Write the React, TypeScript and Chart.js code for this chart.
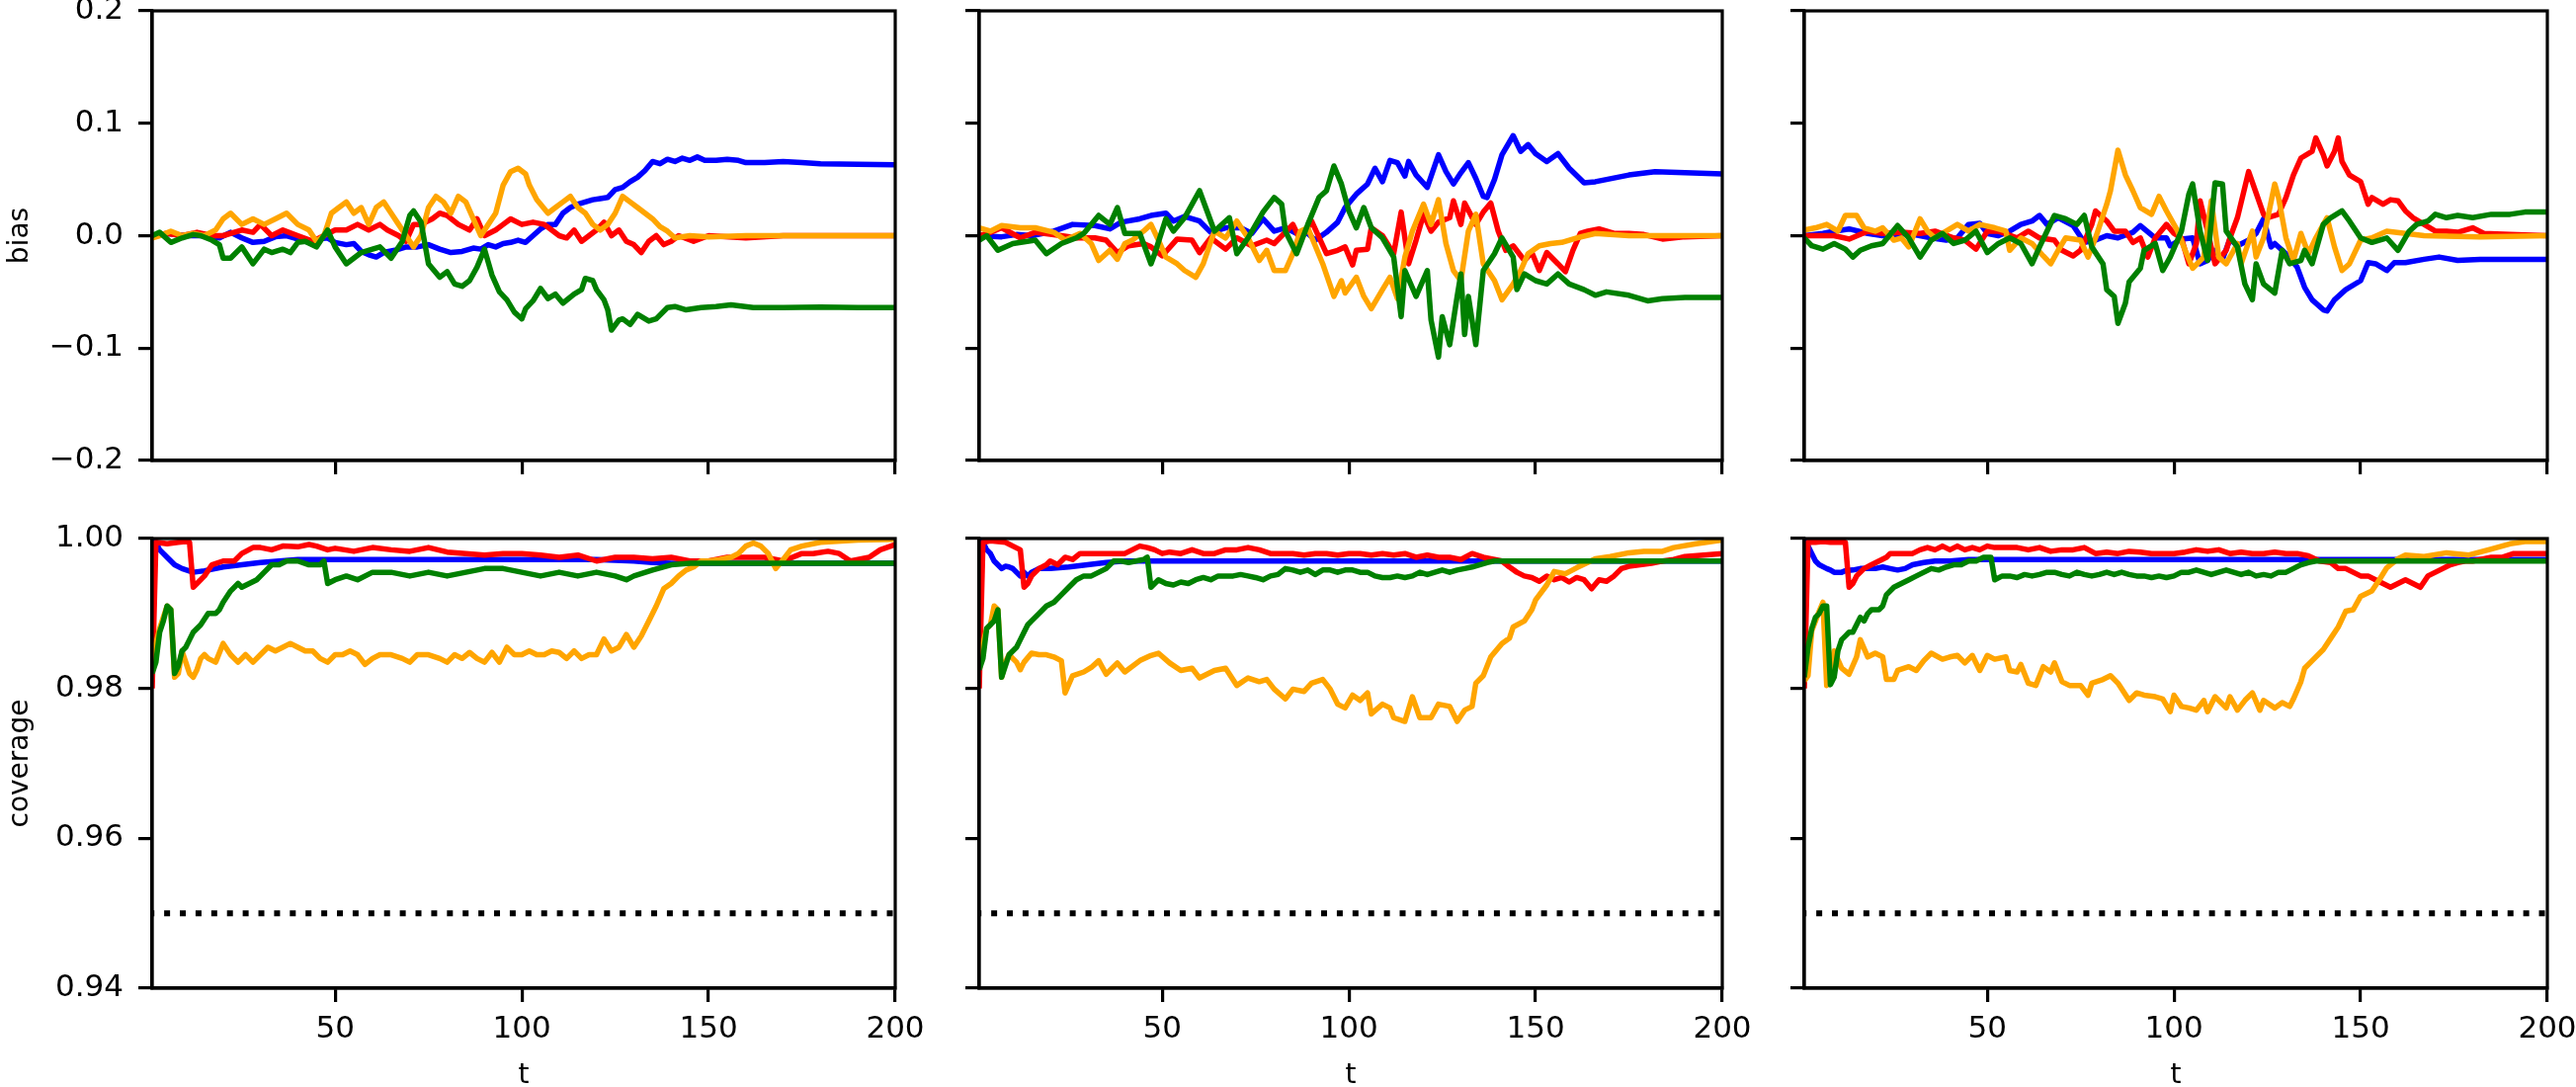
import React, { useEffect, useRef } from "react";
import { Chart, registerables } from "chart.js";

Chart.register(...registerables);
Chart.defaults.font.family = "'DejaVu Sans', sans-serif";

type Pt = [number, number];

// ---------- ticks / labels ----------
const X_TICKS = [50, 100, 150, 200];
const BIAS_TICKS = [-0.2, -0.1, 0, 0.1, 0.2];
const BIAS_TICK_LABELS = ["\u22120.2", "\u22120.1", "0.0", "0.1", "0.2"];
const COV_TICKS = [0.94, 0.96, 0.98, 1.0];
const COV_TICK_LABELS = ["0.94", "0.96", "0.98", "1.00"];
const NOMINAL_LINE: Pt[] = [[0, 0.95], [200, 0.95]];

const COLORS: Record<string, string> = { green: "#008000", orange: "#ffa500", red: "#ff0000", blue: "#0000ff" };
const SERIES_ORDER = ["green", "orange", "red", "blue"];

// ---------- bias, column A ----------
const BIAS_A_GREEN: Pt[] = [[1,0],[3,0.003],[6,-0.006],[9,-0.002],[12,0.001],[14,0],[17,-0.004],[19,-0.008],[20,-0.02],[22,-0.02],[25,-0.01],[28,-0.025],[31,-0.012],[33,-0.015],[36,-0.012],[38,-0.015],[40,-0.006],[42,-0.005],[45,-0.01],[48,0.005],[50,-0.01],[53,-0.025],[55,-0.02],[57,-0.015],[60,-0.012],[62,-0.01],[65,-0.02],[68,-0.005],[70,0.018],[71,0.022],[73,0.012],[75,-0.025],[78,-0.037],[80,-0.032],[82,-0.043],[84,-0.045],[86,-0.04],[88,-0.028],[90,-0.012],[92,-0.035],[94,-0.05],[96,-0.057],[98,-0.068],[100,-0.074],[101,-0.065],[103,-0.058],[105,-0.047],[107,-0.056],[109,-0.052],[111,-0.06],[114,-0.052],[116,-0.048],[117,-0.038],[119,-0.04],[120,-0.048],[122,-0.057],[123,-0.066],[124,-0.084],[126,-0.075],[127,-0.074],[129,-0.079],[131,-0.07],[134,-0.076],[136,-0.074],[139,-0.064],[141,-0.063],[144,-0.066],[148,-0.064],[152,-0.063],[156,-0.0615],[162,-0.064],[170,-0.064],[180,-0.0635],[190,-0.064],[200,-0.064]];
const BIAS_A_ORANGE: Pt[] = [[1,-0.002],[3,0],[6,0.004],[9,0],[12,0.002],[15,0],[18,0.005],[20,0.015],[22,0.02],[25,0.01],[28,0.015],[31,0.01],[34,0.015],[37,0.02],[40,0.01],[43,0.005],[45,-0.005],[47,0],[49,0.02],[51,0.025],[53,0.03],[55,0.02],[57,0.025],[59,0.01],[61,0.025],[63,0.03],[65,0.02],[67,0.01],[69,0],[71,-0.01],[73,0],[75,0.025],[77,0.035],[79,0.03],[81,0.02],[83,0.035],[85,0.03],[87,0.015],[89,0],[91,0.01],[93,0.02],[95,0.045],[97,0.057],[99,0.06],[101,0.055],[102,0.045],[104,0.032],[107,0.02],[109,0.025],[111,0.03],[113,0.035],[115,0.025],[117,0.02],[119,0.01],[121,0.005],[123,0.01],[125,0.02],[127,0.035],[129,0.03],[131,0.025],[133,0.02],[135,0.015],[137,0.008],[139,0.004],[141,-0.002],[145,0],[150,-0.001],[160,0],[200,0]];
const BIAS_A_RED: Pt[] = [[1,0],[5,0.002],[9,0],[13,0.003],[17,0],[20,0],[25,0.005],[28,0.003],[30,0.01],[33,0],[36,0.005],[40,0],[44,-0.005],[47,0],[50,0.005],[53,0.005],[56,0.01],[59,0.005],[62,0.01],[64,0.005],[67,0],[69,-0.005],[71,0.01],[73,0.01],[76,0.015],[78,0.02],[80,0.018],[83,0.01],[86,0.005],[88,0.015],[90,0],[93,0.005],[95,0.01],[97,0.015],[100,0.01],[103,0.012],[106,0.01],[108,0.005],[110,0],[112,-0.002],[114,0.005],[116,-0.005],[118,0],[120,0.005],[122,0.012],[124,0],[126,0.005],[128,-0.005],[130,-0.008],[132,-0.015],[134,-0.005],[136,0],[138,-0.008],[140,-0.005],[142,0],[146,-0.005],[150,0],[160,-0.002],[170,0],[200,0]];
const BIAS_A_BLUE: Pt[] = [[1,0],[5,0.002],[10,0],[15,0],[19,-0.002],[22,0.003],[25,-0.002],[28,-0.006],[31,-0.005],[34,-0.001],[37,0],[40,-0.003],[43,-0.006],[45,-0.003],[48,-0.002],[50,-0.006],[53,-0.008],[55,-0.007],[57,-0.014],[59,-0.017],[61,-0.019],[63,-0.015],[66,-0.013],[69,-0.01],[72,-0.01],[75,-0.008],[78,-0.012],[81,-0.015],[84,-0.014],[87,-0.011],[89,-0.012],[91,-0.008],[93,-0.01],[95,-0.007],[97,-0.006],[99,-0.004],[101,-0.006],[103,0],[105,0.006],[107,0.01],[109,0.01],[111,0.02],[113,0.025],[115,0.028],[117,0.03],[119,0.032],[121,0.033],[123,0.034],[125,0.041],[127,0.043],[129,0.048],[131,0.052],[133,0.058],[135,0.066],[137,0.064],[139,0.068],[141,0.066],[143,0.069],[145,0.067],[147,0.07],[149,0.067],[152,0.067],[155,0.068],[158,0.067],[160,0.065],[165,0.065],[170,0.066],[175,0.065],[180,0.064],[190,0.0635],[200,0.063]];

// ---------- bias, column B ----------
const BIAS_B_GREEN: Pt[] = [[1,-0.004],[3,0],[6,-0.013],[10,-0.007],[16,-0.004],[19,-0.016],[23,-0.007],[27,-0.002],[29,0.002],[33,0.018],[36,0.01],[38,0.025],[40,0.002],[44,0.002],[47,-0.025],[48,-0.016],[51,0.015],[53,0.004],[56,0.016],[60,0.04],[62,0.022],[64,0.004],[68,0.016],[70,-0.016],[73,-0.002],[77,0.021],[80,0.034],[82,0.028],[83,0.004],[86,-0.016],[89,0.01],[92,0.034],[94,0.04],[96,0.062],[98,0.046],[100,0.022],[102,0.007],[104,0.025],[106,0.007],[109,-0.002],[112,-0.019],[114,-0.072],[115,-0.031],[118,-0.054],[121,-0.031],[122,-0.075],[124,-0.108],[125,-0.072],[127,-0.097],[129,-0.054],[130,-0.034],[131,-0.088],[132,-0.054],[134,-0.097],[136,-0.031],[139,-0.016],[141,-0.002],[144,-0.019],[145,-0.048],[147,-0.034],[150,-0.04],[153,-0.043],[156,-0.034],[159,-0.043],[163,-0.048],[166,-0.053],[169,-0.05],[175,-0.053],[180,-0.058],[184,-0.056],[190,-0.055],[200,-0.055]];
const BIAS_B_ORANGE: Pt[] = [[1,0.007],[4,0.004],[7,0.009],[12,0.007],[16,0.007],[21,0.003],[24,-0.004],[28,0.002],[31,-0.007],[33,-0.022],[36,-0.013],[38,-0.021],[40,-0.007],[42,-0.004],[45,0.004],[47,0.01],[49,-0.004],[51,-0.019],[54,-0.025],[56,-0.031],[59,-0.037],[61,-0.025],[64,0.004],[67,-0.002],[70,0.013],[73,-0.002],[76,-0.022],[78,-0.013],[80,-0.031],[83,-0.031],[85,-0.016],[87,0.004],[89,0.007],[93,-0.025],[96,-0.054],[98,-0.04],[99,-0.051],[102,-0.037],[104,-0.054],[106,-0.065],[109,-0.048],[111,-0.037],[113,-0.056],[115,-0.019],[117,0.004],[120,0.028],[122,0.01],[124,0.032],[126,-0.007],[128,-0.031],[130,-0.04],[132,0.004],[134,0.019],[136,-0.025],[139,-0.04],[141,-0.057],[144,-0.043],[146,-0.031],[148,-0.016],[151,-0.009],[154,-0.007],[157,-0.006],[161,-0.002],[166,0.002],[175,0],[200,0]];
const BIAS_B_RED: Pt[] = [[1,0],[4,0.003],[7,0.007],[12,-0.002],[16,0.003],[23,0],[27,-0.002],[32,-0.002],[35,-0.004],[38,-0.015],[41,-0.009],[45,-0.007],[47,-0.01],[50,-0.018],[54,-0.003],[58,-0.004],[60,-0.015],[63,-0.002],[67,-0.012],[70,-0.002],[74,-0.009],[78,-0.004],[80,-0.007],[85,0.01],[87,-0.004],[90,0.013],[94,-0.016],[97,-0.013],[99,-0.01],[101,-0.026],[102,-0.013],[105,-0.012],[106,0.007],[109,0],[112,-0.016],[114,0.021],[116,-0.025],[118,-0.004],[120,0.019],[122,0.004],[124,0.012],[127,0.016],[128,0.031],[130,0.01],[131,0.029],[134,0.01],[136,0.021],[138,0.029],[140,0.004],[142,-0.013],[144,-0.009],[147,-0.022],[149,-0.015],[151,-0.031],[153,-0.015],[156,-0.025],[158,-0.032],[160,-0.013],[162,0.002],[164,0.004],[167,0.006],[171,0.002],[175,0.002],[179,0.001],[184,-0.003],[190,-0.001],[200,0]];
const BIAS_B_BLUE: Pt[] = [[1,0],[7,-0.001],[11,0.001],[15,0],[18,0.002],[21,0.004],[26,0.01],[32,0.009],[36,0.006],[39,0.012],[44,0.015],[47,0.018],[51,0.02],[53,0.013],[56,0.017],[60,0.013],[63,0.003],[67,0.007],[71,0.007],[74,0.002],[77,0.015],[80,0.004],[83,0.007],[86,0.002],[89,0.002],[91,-0.004],[94,0.003],[97,0.012],[99,0.025],[102,0.037],[105,0.046],[107,0.06],[109,0.048],[111,0.067],[113,0.065],[115,0.053],[116,0.066],[118,0.054],[121,0.043],[124,0.072],[126,0.057],[128,0.046],[130,0.056],[132,0.065],[134,0.051],[136,0.035],[137,0.034],[139,0.05],[141,0.072],[144,0.089],[146,0.075],[148,0.081],[150,0.073],[153,0.066],[156,0.073],[159,0.06],[163,0.047],[166,0.048],[169,0.05],[175,0.054],[182,0.057],[190,0.056],[200,0.055]];

// ---------- bias, column C ----------
const BIAS_C_GREEN: Pt[] = [[1,-0.002],[3,-0.009],[6,-0.012],[9,-0.007],[12,-0.012],[14,-0.019],[16,-0.013],[19,-0.009],[22,-0.007],[26,0.009],[29,-0.002],[32,-0.019],[35,-0.004],[38,0.002],[41,-0.007],[44,-0.004],[47,0.004],[50,-0.015],[53,-0.007],[56,-0.002],[59,-0.007],[62,-0.025],[64,-0.01],[66,0.004],[68,0.018],[71,0.015],[74,0.01],[76,0.018],[78,-0.01],[81,-0.025],[82,-0.048],[84,-0.054],[85,-0.078],[87,-0.06],[88,-0.041],[91,-0.029],[92,-0.013],[95,-0.007],[97,-0.031],[99,-0.019],[102,0.004],[104,0.037],[105,0.046],[107,0.004],[109,-0.022],[111,0.047],[113,0.046],[114,0.004],[117,-0.01],[119,-0.043],[121,-0.057],[122,-0.025],[124,-0.043],[127,-0.051],[129,-0.013],[131,-0.025],[134,-0.022],[135,-0.013],[137,-0.025],[140,0.01],[142,0.016],[145,0.022],[147,0.013],[150,-0.002],[153,-0.006],[157,-0.002],[160,-0.013],[163,0.004],[165,0.01],[168,0.013],[170,0.019],[173,0.016],[176,0.018],[180,0.016],[185,0.019],[190,0.019],[194,0.021],[200,0.021]];
const BIAS_C_ORANGE: Pt[] = [[1,0.005],[4,0.007],[7,0.01],[10,0.004],[12,0.018],[15,0.018],[17,0.007],[20,0.004],[22,0.007],[25,-0.004],[27,-0.002],[29,-0.01],[32,0.015],[34,0.004],[36,-0.002],[39,0.004],[42,0.01],[45,0.004],[48,0.01],[52,0.007],[55,0.004],[56,-0.013],[59,-0.002],[62,-0.007],[65,-0.018],[67,-0.025],[69,-0.013],[71,-0.002],[75,-0.004],[77,-0.019],[79,-0.002],[82,0.028],[83,0.04],[85,0.076],[87,0.054],[89,0.04],[91,0.025],[94,0.019],[96,0.035],[98,0.022],[101,0.004],[103,-0.013],[105,-0.029],[108,-0.019],[110,0.031],[112,-0.019],[114,-0.025],[117,-0.007],[118,-0.025],[121,0.004],[122,-0.019],[124,-0.002],[127,0.046],[128,0.034],[130,-0.002],[132,-0.022],[134,0.002],[136,-0.016],[138,-0.002],[141,0.016],[143,-0.01],[145,-0.031],[147,-0.025],[150,-0.004],[153,-0.002],[157,0.004],[162,0.002],[167,0],[182,-0.001],[200,0]];
const BIAS_C_RED: Pt[] = [[1,0],[6,0],[9,0],[13,-0.003],[18,0.004],[22,0.002],[27,0.003],[32,0.002],[36,0.004],[41,-0.002],[44,-0.004],[47,-0.012],[50,0.004],[53,0.004],[58,-0.002],[61,0.004],[64,-0.002],[68,-0.004],[70,-0.013],[73,-0.018],[75,-0.013],[78,0.01],[79,0.022],[82,0.013],[84,0.004],[87,0.004],[89,-0.006],[91,-0.002],[93,-0.019],[95,-0.002],[98,0.01],[100,0.002],[102,-0.002],[104,-0.025],[106,-0.007],[107,0.031],[109,0.004],[111,-0.025],[114,-0.013],[115,-0.002],[117,0.016],[120,0.057],[122,0.038],[124,0.019],[125,0.016],[128,0.019],[130,0.034],[132,0.054],[134,0.069],[137,0.075],[138,0.087],[140,0.072],[141,0.062],[143,0.075],[144,0.087],[145,0.066],[147,0.054],[150,0.048],[152,0.028],[153,0.034],[156,0.028],[158,0.032],[160,0.031],[162,0.022],[164,0.016],[167,0.01],[170,0.004],[173,0.004],[176,0.003],[180,0.007],[183,0.002],[190,0.001],[200,0]];
const BIAS_C_BLUE: Pt[] = [[1,0],[6,0.002],[9,0.004],[13,0.006],[18,0.002],[22,0],[29,0.002],[35,-0.002],[39,-0.004],[42,-0.002],[45,0.01],[48,0.011],[50,0.002],[53,0],[56,0.004],[59,0.01],[62,0.013],[64,0.018],[66,0.01],[69,0.016],[73,0.009],[76,-0.006],[79,-0.004],[82,0],[85,-0.002],[89,0.003],[91,0.009],[95,-0.002],[98,-0.002],[99,-0.009],[102,-0.003],[105,-0.002],[107,-0.025],[109,-0.022],[111,-0.013],[113,-0.021],[115,-0.003],[117,-0.009],[120,-0.004],[122,0.002],[124,0.015],[126,-0.01],[127,-0.007],[130,-0.016],[133,-0.028],[135,-0.046],[137,-0.057],[140,-0.066],[141,-0.067],[143,-0.057],[146,-0.048],[150,-0.04],[152,-0.024],[154,-0.025],[157,-0.031],[159,-0.024],[162,-0.024],[167,-0.021],[171,-0.019],[176,-0.022],[182,-0.021],[190,-0.021],[200,-0.021]];

// ---------- coverage, column A ----------
const COV_A_GREEN: Pt[] = [[1,0.982],[2,0.9835],[3,0.9875],[4,0.989],[5,0.991],[6,0.9905],[7,0.982],[8,0.983],[9,0.985],[10,0.9855],[11,0.9865],[12,0.9875],[14,0.9885],[16,0.99],[18,0.99],[19,0.9905],[20,0.9915],[22,0.993],[24,0.994],[25,0.9935],[27,0.994],[29,0.9945],[31,0.9955],[33,0.9965],[35,0.9965],[37,0.997],[40,0.997],[43,0.9965],[46,0.9965],[47,0.997],[48,0.994],[50,0.9945],[53,0.995],[56,0.9945],[60,0.9955],[65,0.9955],[70,0.995],[75,0.9955],[80,0.995],[85,0.9955],[90,0.996],[95,0.996],[100,0.9955],[105,0.995],[110,0.9955],[115,0.995],[120,0.9955],[125,0.995],[128,0.9945],[130,0.995],[135,0.9958],[140,0.9965],[145,0.9967],[150,0.9967],[200,0.9967]];
const COV_A_ORANGE: Pt[] = [[1,0.982],[2,0.986],[3,0.988],[4,0.9895],[5,0.991],[6,0.9905],[7,0.9815],[8,0.982],[9,0.985],[10,0.9835],[11,0.982],[12,0.9815],[13,0.9825],[14,0.984],[15,0.9845],[16,0.984],[18,0.9835],[20,0.986],[22,0.9845],[24,0.9835],[26,0.9845],[28,0.9835],[30,0.9845],[32,0.9855],[34,0.985],[36,0.9855],[38,0.986],[40,0.9855],[42,0.985],[44,0.985],[46,0.984],[48,0.9835],[50,0.9845],[52,0.9845],[54,0.985],[56,0.9845],[58,0.9832],[60,0.984],[62,0.9845],[65,0.9845],[68,0.984],[70,0.9835],[72,0.9845],[75,0.9845],[78,0.984],[80,0.9835],[82,0.9845],[84,0.984],[86,0.9848],[88,0.984],[90,0.9835],[92,0.9848],[94,0.9835],[96,0.9855],[98,0.9845],[100,0.9845],[102,0.985],[104,0.9845],[106,0.9845],[108,0.985],[110,0.9848],[112,0.984],[114,0.985],[116,0.984],[118,0.9845],[120,0.9845],[122,0.9866],[124,0.985],[126,0.9855],[128,0.9872],[130,0.9855],[132,0.987],[134,0.989],[136,0.991],[138,0.9933],[140,0.994],[142,0.995],[144,0.9958],[146,0.9962],[148,0.997],[150,0.997],[153,0.9972],[156,0.9975],[158,0.998],[160,0.999],[162,0.9994],[164,0.999],[166,0.998],[168,0.996],[170,0.9972],[172,0.9985],[175,0.999],[180,0.9995],[190,0.9998],[200,0.9999]];
const COV_A_RED: Pt[] = [[1,0.98],[2,0.9995],[5,0.9993],[8,0.9995],[10,0.9996],[11,0.9995],[12,0.9935],[13,0.994],[15,0.995],[17,0.9965],[20,0.997],[23,0.997],[25,0.998],[28,0.9988],[30,0.9988],[33,0.9985],[36,0.999],[40,0.9989],[43,0.9992],[45,0.999],[48,0.9985],[50,0.9987],[55,0.9983],[60,0.9988],[65,0.9985],[70,0.9983],[75,0.9988],[80,0.9982],[85,0.998],[90,0.9978],[95,0.998],[100,0.998],[105,0.9978],[110,0.9975],[115,0.9978],[120,0.997],[125,0.9975],[130,0.9975],[135,0.9973],[140,0.9975],[145,0.997],[150,0.997],[155,0.9975],[160,0.9975],[165,0.9975],[170,0.997],[175,0.998],[178,0.998],[182,0.9983],[185,0.998],[188,0.997],[190,0.9972],[193,0.9975],[196,0.9985],[200,0.9992]];
const COV_A_BLUE: Pt[] = [[1,1],[2,0.9995],[3,0.9985],[5,0.9975],[7,0.9965],[9,0.996],[12,0.9955],[15,0.9957],[18,0.996],[20,0.9962],[25,0.9965],[30,0.9968],[35,0.997],[40,0.9972],[60,0.9972],[100,0.9972],[120,0.9972],[130,0.997],[135,0.9968],[140,0.9967],[200,0.9967]];

// ---------- coverage, column B ----------
const COV_B_GREEN: Pt[] = [[1,0.9825],[2,0.984],[3,0.988],[4,0.9885],[5,0.989],[6,0.9905],[7,0.9815],[8,0.983],[9,0.9845],[10,0.985],[11,0.9855],[12,0.9865],[13,0.9875],[14,0.9885],[15,0.989],[17,0.99],[19,0.991],[21,0.9915],[23,0.9925],[25,0.9935],[27,0.9945],[29,0.995],[31,0.995],[33,0.9955],[35,0.996],[37,0.997],[39,0.997],[41,0.9968],[43,0.997],[45,0.9972],[46,0.9975],[47,0.9935],[49,0.9945],[51,0.994],[53,0.9938],[55,0.9942],[57,0.994],[59,0.9945],[61,0.9948],[63,0.9945],[65,0.995],[67,0.995],[69,0.995],[71,0.9952],[73,0.995],[75,0.9948],[77,0.9945],[79,0.995],[81,0.9952],[83,0.996],[85,0.9958],[87,0.9955],[89,0.9958],[91,0.9952],[93,0.9958],[95,0.9958],[97,0.9955],[99,0.9958],[101,0.9958],[103,0.9955],[105,0.9955],[107,0.995],[109,0.9948],[111,0.9948],[113,0.995],[115,0.9948],[117,0.995],[119,0.9955],[121,0.9952],[123,0.9955],[125,0.9958],[127,0.9955],[129,0.9958],[131,0.996],[133,0.9962],[135,0.9965],[137,0.9968],[139,0.997],[141,0.997],[200,0.997]];
const COV_B_ORANGE: Pt[] = [[1,0.9825],[2,0.986],[3,0.988],[4,0.9885],[5,0.991],[6,0.9905],[7,0.9815],[8,0.9835],[9,0.9845],[10,0.984],[11,0.9835],[12,0.9825],[13,0.9835],[15,0.9847],[17,0.9845],[19,0.9845],[21,0.9842],[23,0.9837],[24,0.9794],[26,0.9817],[29,0.9822],[31,0.9828],[33,0.9837],[35,0.9819],[38,0.9834],[40,0.9822],[44,0.9837],[47,0.9844],[49,0.9847],[52,0.9834],[55,0.9824],[58,0.9827],[60,0.9814],[64,0.9824],[67,0.9827],[70,0.9804],[73,0.9814],[76,0.9809],[78,0.9812],[80,0.9799],[83,0.9786],[85,0.9799],[88,0.9796],[90,0.9807],[93,0.9812],[95,0.9799],[97,0.9779],[99,0.9774],[101,0.9791],[103,0.9784],[105,0.9794],[106,0.9766],[109,0.9779],[111,0.9774],[112,0.9761],[115,0.9756],[117,0.9789],[119,0.9761],[122,0.9761],[124,0.9779],[127,0.9776],[129,0.9756],[131,0.9771],[133,0.9776],[134,0.9807],[136,0.9817],[138,0.9842],[141,0.986],[143,0.9867],[144,0.9882],[147,0.989],[149,0.9905],[150,0.9918],[153,0.9938],[155,0.9956],[158,0.9953],[161,0.9961],[166,0.9973],[170,0.9976],[175,0.9981],[179,0.9983],[184,0.9983],[187,0.9988],[193,0.9993],[200,0.9998]];
const COV_B_RED: Pt[] = [[1,0.98],[2,0.9995],[4,0.9997],[6,0.9996],[8,0.9995],[10,0.999],[12,0.9985],[13,0.9935],[14,0.994],[15,0.995],[17,0.996],[19,0.9965],[20,0.997],[22,0.9965],[24,0.9975],[26,0.9972],[28,0.998],[30,0.998],[33,0.998],[36,0.998],[40,0.998],[42,0.9985],[44,0.999],[46,0.9988],[48,0.9985],[50,0.998],[52,0.9982],[55,0.998],[58,0.9985],[61,0.998],[64,0.998],[67,0.9985],[70,0.9985],[73,0.9988],[76,0.9985],[79,0.998],[82,0.998],[85,0.998],[88,0.9978],[91,0.998],[94,0.998],[97,0.9978],[100,0.998],[103,0.998],[106,0.9978],[109,0.998],[112,0.9978],[115,0.998],[118,0.9975],[121,0.9978],[124,0.9975],[127,0.9975],[130,0.9972],[133,0.998],[136,0.9975],[139,0.9972],[141,0.997],[143,0.9962],[145,0.9955],[147,0.995],[149,0.9948],[151,0.9943],[153,0.995],[155,0.9945],[157,0.9948],[159,0.9942],[161,0.9948],[163,0.9945],[165,0.9933],[167,0.9945],[169,0.9943],[171,0.995],[173,0.996],[175,0.9963],[178,0.9965],[181,0.9967],[184,0.997],[187,0.9972],[190,0.9976],[195,0.9978],[200,0.998]];
const COV_B_BLUE: Pt[] = [[1,1],[2,0.9995],[3,0.9985],[4,0.998],[5,0.997],[6,0.9965],[7,0.996],[8,0.9963],[9,0.9962],[10,0.996],[11,0.9955],[12,0.995],[13,0.9955],[14,0.995],[15,0.9955],[17,0.996],[20,0.996],[25,0.9962],[30,0.9965],[35,0.9968],[40,0.997],[200,0.997]];

// ---------- coverage, column C ----------
const COV_C_GREEN: Pt[] = [[1,0.9815],[2,0.9855],[3,0.988],[4,0.9895],[5,0.99],[6,0.991],[7,0.991],[8,0.9805],[9,0.9815],[10,0.985],[11,0.9865],[12,0.987],[13,0.9875],[14,0.9875],[15,0.9885],[16,0.9895],[17,0.989],[18,0.99],[19,0.9905],[21,0.9905],[22,0.991],[23,0.9925],[25,0.9935],[27,0.994],[29,0.9945],[31,0.995],[33,0.9955],[35,0.996],[37,0.9958],[39,0.9962],[41,0.9965],[43,0.9965],[45,0.997],[47,0.997],[49,0.9975],[51,0.9975],[52,0.9945],[54,0.995],[56,0.995],[58,0.9948],[60,0.9952],[62,0.995],[64,0.9952],[66,0.9955],[68,0.9955],[70,0.9952],[72,0.995],[74,0.9955],[76,0.9952],[78,0.995],[80,0.9952],[82,0.9955],[84,0.9952],[86,0.9955],[88,0.9952],[90,0.995],[92,0.995],[94,0.9948],[96,0.995],[98,0.9948],[100,0.995],[102,0.9955],[104,0.9955],[106,0.9958],[108,0.9955],[110,0.9952],[112,0.9955],[114,0.9958],[116,0.9955],[118,0.9952],[120,0.9955],[122,0.995],[124,0.9952],[126,0.995],[128,0.9955],[130,0.9955],[132,0.996],[134,0.9965],[136,0.9968],[138,0.997],[140,0.997],[200,0.997]];
const COV_C_ORANGE: Pt[] = [[1,0.981],[2,0.9817],[3,0.9877],[5,0.9903],[6,0.9915],[7,0.9804],[8,0.9822],[9,0.985],[11,0.9827],[13,0.9819],[15,0.9842],[16,0.9865],[18,0.9842],[20,0.9847],[22,0.9842],[23,0.9812],[25,0.9812],[26,0.9824],[29,0.9829],[31,0.9824],[33,0.9837],[35,0.9847],[38,0.9839],[40,0.9842],[42,0.9844],[44,0.9834],[46,0.9844],[48,0.9824],[50,0.9844],[52,0.9839],[55,0.9842],[56,0.9824],[58,0.9822],[59,0.9832],[61,0.9807],[63,0.9804],[65,0.9829],[67,0.9822],[68,0.9834],[70,0.9809],[72,0.9804],[75,0.9804],[77,0.9791],[78,0.9807],[81,0.9812],[83,0.9817],[85,0.9807],[88,0.9784],[90,0.9794],[92,0.9791],[95,0.9789],[97,0.9786],[99,0.9769],[100,0.9791],[102,0.9776],[104,0.9774],[106,0.9771],[108,0.9784],[109,0.9769],[111,0.9789],[114,0.9774],[115,0.9789],[117,0.9771],[119,0.9784],[121,0.9794],[123,0.9771],[124,0.9784],[127,0.9774],[129,0.9781],[131,0.9776],[132,0.9786],[134,0.9809],[135,0.9827],[137,0.9837],[140,0.9852],[142,0.9867],[144,0.9882],[146,0.9903],[148,0.9905],[150,0.9923],[153,0.993],[155,0.9945],[157,0.9961],[160,0.9973],[162,0.9978],[167,0.9976],[173,0.9981],[179,0.9978],[185,0.9986],[190,0.9993],[194,0.9996],[200,0.9996]];
const COV_C_RED: Pt[] = [[1,0.98],[2,0.9995],[4,0.9995],[6,0.9996],[8,0.9995],[10,0.9995],[12,0.9995],[13,0.9935],[14,0.994],[15,0.995],[17,0.996],[19,0.9965],[21,0.997],[23,0.9975],[24,0.998],[26,0.998],[28,0.998],[30,0.998],[32,0.9985],[34,0.9988],[36,0.9985],[38,0.999],[40,0.9985],[42,0.999],[44,0.9985],[46,0.9988],[48,0.9985],[50,0.999],[52,0.9988],[55,0.9988],[58,0.9988],[61,0.9985],[64,0.9988],[67,0.9983],[70,0.9985],[73,0.9985],[76,0.9988],[79,0.998],[82,0.9982],[85,0.998],[88,0.9983],[91,0.9982],[94,0.998],[97,0.998],[100,0.998],[103,0.9982],[106,0.9985],[109,0.9983],[112,0.9985],[115,0.998],[118,0.9982],[121,0.998],[124,0.998],[127,0.9982],[130,0.998],[133,0.998],[136,0.9977],[139,0.997],[142,0.9968],[144,0.996],[146,0.996],[148,0.9955],[150,0.995],[152,0.995],[154,0.9945],[156,0.994],[158,0.9935],[160,0.994],[162,0.9945],[164,0.994],[166,0.9935],[168,0.995],[170,0.9955],[172,0.996],[174,0.9965],[176,0.9968],[178,0.997],[180,0.997],[182,0.9972],[185,0.9975],[188,0.9975],[191,0.998],[195,0.998],[200,0.998]];
const COV_C_BLUE: Pt[] = [[1,1],[2,0.999],[3,0.998],[4,0.997],[5,0.9965],[7,0.996],[8,0.9958],[9,0.9955],[11,0.9955],[12,0.9957],[14,0.9958],[16,0.996],[20,0.996],[22,0.9962],[24,0.996],[26,0.9958],[28,0.996],[30,0.9965],[33,0.9968],[36,0.997],[40,0.997],[45,0.9972],[200,0.9972]];

// ---------- layout ----------
const PLOT_W = 752;
const PLOT_H = 455;
const COL_LEFT = [154, 991, 1826];
const ROW_TOP = [11, 545];
const TICK_FONT = 31;
const TITLE_FONT = 28;

type PanelSpec = {
  row: number;
  col: number;
  series: Record<string, Pt[]>;
};

const PANELS: PanelSpec[] = [
  { row: 0, col: 0, series: { green: BIAS_A_GREEN, orange: BIAS_A_ORANGE, red: BIAS_A_RED, blue: BIAS_A_BLUE } },
  { row: 0, col: 1, series: { green: BIAS_B_GREEN, orange: BIAS_B_ORANGE, red: BIAS_B_RED, blue: BIAS_B_BLUE } },
  { row: 0, col: 2, series: { green: BIAS_C_GREEN, orange: BIAS_C_ORANGE, red: BIAS_C_RED, blue: BIAS_C_BLUE } },
  { row: 1, col: 0, series: { green: COV_A_GREEN, orange: COV_A_ORANGE, red: COV_A_RED, blue: COV_A_BLUE } },
  { row: 1, col: 1, series: { green: COV_B_GREEN, orange: COV_B_ORANGE, red: COV_B_RED, blue: COV_B_BLUE } },
  { row: 1, col: 2, series: { green: COV_C_GREEN, orange: COV_C_ORANGE, red: COV_C_RED, blue: COV_C_BLUE } },
];

const framePlugin = {
  id: "frame",
  afterDatasetsDraw(chart: any) {
    const { ctx, chartArea: a } = chart;
    ctx.save();
    ctx.strokeStyle = "#000";
    ctx.lineWidth = 3.2;
    ctx.strokeRect(a.left, a.top, a.right - a.left, a.bottom - a.top);
    ctx.restore();
  },
};

function geometry(spec: PanelSpec) {
  const padL = spec.col === 0 ? 154 : 20;
  const padR = spec.col === 2 ? 29 : 40;
  const padT = spec.row === 0 ? 11 : 25;
  const padB = spec.row === 0 ? 20 : 110;
  return {
    padL, padR, padT, padB,
    left: COL_LEFT[spec.col] - padL,
    top: ROW_TOP[spec.row] - padT,
    width: padL + PLOT_W + padR,
    height: padT + PLOT_H + padB,
  };
}

function Panel({ spec }: { spec: PanelSpec }) {
  const ref = useRef<HTMLCanvasElement>(null);
  const g = geometry(spec);

  useEffect(() => {
    const canvas = ref.current;
    if (!canvas) return;
    const isBias = spec.row === 0;
    const yTicks = isBias ? BIAS_TICKS : COV_TICKS;
    const yLabels = isBias ? BIAS_TICK_LABELS : COV_TICK_LABELS;

    const datasets: any[] = SERIES_ORDER.map((name) => ({
      label: name,
      data: spec.series[name].map(([x, y]) => ({ x, y })),
      borderColor: COLORS[name],
      borderWidth: 5.5,
      pointRadius: 0,
      fill: false,
      tension: 0,
      clip: 0,
      borderJoinStyle: "round",
    }));
    if (!isBias) {
      datasets.unshift({
        label: "nominal",
        data: NOMINAL_LINE.map(([x, y]) => ({ x, y })),
        borderColor: "#000",
        borderWidth: 6,
        borderDash: [6, 9.9],
        pointRadius: 0,
        fill: false,
        clip: 0,
      });
    }

    const gridOpts = {
      display: true,
      drawOnChartArea: false,
      drawTicks: true,
      tickLength: 14,
      tickWidth: 3.2,
      tickColor: "#000",
      color: "#000",
      lineWidth: 3.2,
    };

    const chart = new Chart(canvas, {
      type: "line",
      data: { datasets },
      plugins: [framePlugin],
      options: {
        animation: false,
        responsive: false,
        maintainAspectRatio: false,
        devicePixelRatio: 1,
        events: [],
        layout: { autoPadding: false, padding: { left: 0, right: g.padR, top: g.padT, bottom: 0 } },
        plugins: { legend: { display: false }, tooltip: { enabled: false } },
        scales: {
          x: {
            type: "linear",
            min: 1,
            max: 200,
            bounds: "data",
            grid: gridOpts,
            border: { display: true, color: "#000", width: 3.2 },
            ticks: {
              display: !isBias,
              color: "#000",
              font: { size: TICK_FONT },
              padding: 9,
              maxRotation: 0,
              autoSkip: false,
              callback: (v: any) => String(v),
            },
            title: {
              display: !isBias,
              text: "t",
              color: "#000",
              font: { size: TITLE_FONT },
              padding: { top: 0, bottom: 4 },
            },
            afterBuildTicks: (scale: any) => {
              scale.ticks = X_TICKS.map((v) => ({ value: v }));
            },
            afterFit: (scale: any) => {
              scale.height = g.padB;
              scale.paddingLeft = 0;
              scale.paddingRight = 0;
              scale.paddingTop = 0;
              scale.paddingBottom = 0;
            },
          },
          y: {
            type: "linear",
            min: yTicks[0],
            max: yTicks[yTicks.length - 1],
            bounds: "data",
            grid: gridOpts,
            border: { display: true, color: "#000", width: 3.2 },
            ticks: {
              display: spec.col === 0,
              color: "#000",
              font: { size: TICK_FONT },
              padding: 15,
              autoSkip: false,
              callback: (_v: any, i: number) => yLabels[i],
            },
            title: {
              display: spec.col === 0,
              text: isBias ? "bias" : "coverage",
              color: "#000",
              font: { size: TITLE_FONT },
              padding: { top: 4, bottom: 0 },
            },
            afterBuildTicks: (scale: any) => {
              scale.ticks = yTicks.map((v) => ({ value: v }));
            },
            afterFit: (scale: any) => {
              scale.width = g.padL;
              scale.paddingLeft = 0;
              scale.paddingRight = 0;
              scale.paddingTop = 0;
              scale.paddingBottom = 0;
            },
          },
        },
      } as any,
    });
    return () => chart.destroy();
  }, []);

  return (
    <canvas
      ref={ref}
      width={g.width}
      height={g.height}
      style={{ position: "absolute", left: g.left, top: g.top, width: g.width, height: g.height }}
    />
  );
}

export default function App() {
  return (
    <div
      style={{
        position: "fixed",
        left: 0,
        top: 0,
        width: 2607,
        height: 1100,
        overflow: "hidden",
        background: "#fff",
      }}
    >
      {PANELS.map((p, i) => (
        <Panel key={i} spec={p} />
      ))}
    </div>
  );
}
